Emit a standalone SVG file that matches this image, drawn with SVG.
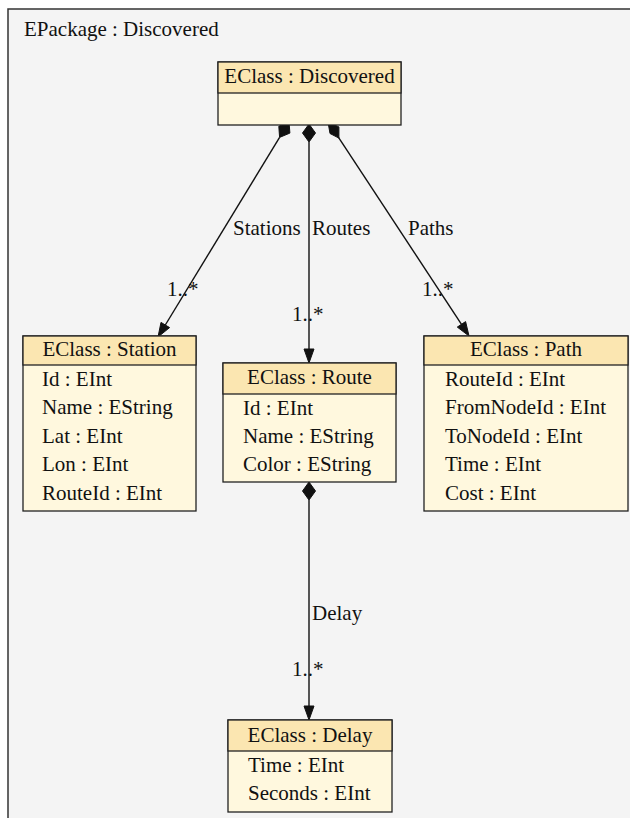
<svg xmlns="http://www.w3.org/2000/svg" width="630" height="818" viewBox="0 0 630 818" font-family="'Liberation Serif', 'Times New Roman', 'DejaVu Serif', serif">
<style>
text{font-family:'Liberation Serif','Times New Roman','DejaVu Serif',serif;font-size:21px;fill:#111}
.t{text-anchor:middle}
.hd{fill:#fbe6b1;stroke:#222;stroke-width:1.3}
.bd{fill:#fff8de;stroke:#222;stroke-width:1.3}
.ln{stroke:#111;stroke-width:1.4;fill:none}
.ah{fill:#111;stroke:#111;stroke-width:1}
</style>
<rect x="0" y="0" width="630" height="818" fill="#ffffff"/>
<g id="package">
<rect x="8" y="9" width="640" height="830" fill="#f4f4f4" stroke="#333" stroke-width="1.5"/>
<text x="24" y="36">EPackage : Discovered</text>
</g>
<g id="connectors">
<polygon class="ah" points="289,122 289.9,133.1 279.6,137.4 278.8,126.3"/>
<line class="ln" x1="279.6" y1="137.4" x2="165.3" y2="325"/>
<polygon class="ah" points="158,337 169.6,327.6 161,322.4"/>
<text x="233" y="235">Stations</text>
<text x="167" y="296">1..*</text>
<polygon class="ah" points="309,124 315.5,133 309,142 302.5,133"/>
<line class="ln" x1="309" y1="142" x2="309" y2="350"/>
<polygon class="ah" points="309,363 314,349 304,349"/>
<text x="312" y="235">Routes</text>
<text x="292" y="321">1..*</text>
<polygon class="ah" points="328,122 338.9,126.9 338.9,138.1 330,133.5"/>
<line class="ln" x1="338.5" y1="137.3" x2="461.5" y2="324.3"/>
<polygon class="ah" points="469,336 465.6,321.6 457.3,327.1"/>
<text x="408" y="235">Paths</text>
<text x="422" y="296">1..*</text>
<polygon class="ah" points="309,482 315.5,491 309,500 302.5,491"/>
<line class="ln" x1="309" y1="500" x2="309" y2="707"/>
<polygon class="ah" points="309,720 314,706 304,706"/>
<text x="312" y="620">Delay</text>
<text x="292" y="676">1..*</text>
</g>
<g id="Discovered">
<rect class="bd" x="218" y="62" width="183" height="63"/>
<rect class="hd" x="218" y="62" width="183" height="31"/>
<text class="t" x="309.5" y="83">EClass : Discovered</text>
</g>
<g id="Station">
<rect class="bd" x="23" y="336" width="173" height="175"/>
<rect class="hd" x="23" y="336" width="173" height="29"/>
<text class="t" x="109.5" y="356">EClass : Station</text>
<text x="42" y="386">Id : EInt</text>
<text x="42" y="414">Name : EString</text>
<text x="42" y="443">Lat : EInt</text>
<text x="42" y="471">Lon : EInt</text>
<text x="42" y="500">RouteId : EInt</text>
</g>
<g id="Route">
<rect class="bd" x="223" y="363" width="173" height="119"/>
<rect class="hd" x="223" y="363" width="173" height="31"/>
<text class="t" x="309.5" y="384">EClass : Route</text>
<text x="243" y="415">Id : EInt</text>
<text x="243" y="443">Name : EString</text>
<text x="243" y="471">Color : EString</text>
</g>
<g id="Path">
<rect class="bd" x="424" y="336" width="204" height="175"/>
<rect class="hd" x="424" y="336" width="204" height="29"/>
<text class="t" x="526" y="356">EClass : Path</text>
<text x="445" y="386">RouteId : EInt</text>
<text x="445" y="414">FromNodeId : EInt</text>
<text x="445" y="443">ToNodeId : EInt</text>
<text x="445" y="471">Time : EInt</text>
<text x="445" y="500">Cost : EInt</text>
</g>
<g id="Delay">
<rect class="bd" x="228" y="720" width="164" height="92"/>
<rect class="hd" x="228" y="720" width="164" height="31"/>
<text class="t" x="310" y="742">EClass : Delay</text>
<text x="248" y="772">Time : EInt</text>
<text x="248" y="800">Seconds : EInt</text>
</g>
</svg>
